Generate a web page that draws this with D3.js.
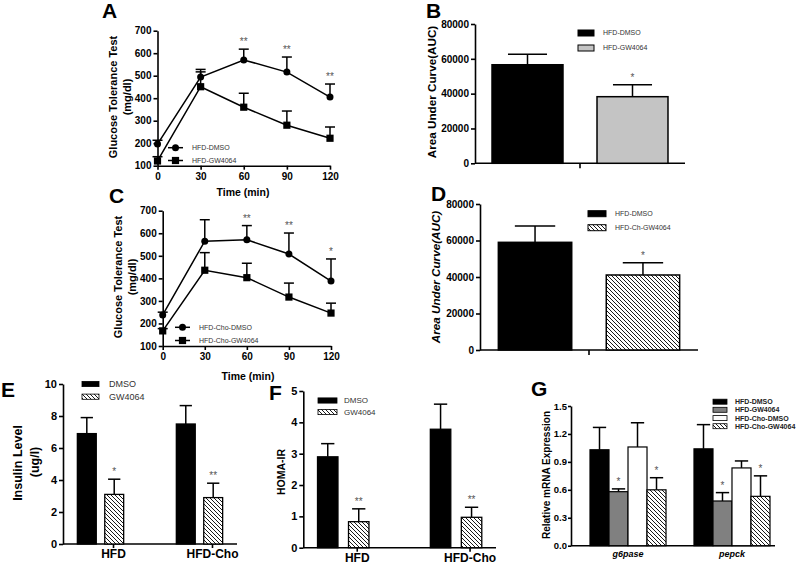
<!DOCTYPE html>
<html><head><meta charset="utf-8">
<script src="https://cdn.jsdelivr.net/npm/d3@7"></script>
<style>body{margin:0;background:#fff} svg{display:block}</style>
</head><body><svg id="c" width="800" height="564"></svg>
<script>
// ---------------- DATA ----------------
const timePoints = [0, 30, 60, 90, 120];
const gttTicks = [100, 200, 300, 400, 500, 600, 700];

const aLegend = ["HFD-DMSO", "HFD-GW4064"];
const aDMSO = [196, 494, 570, 516, 405];
const aDMSOsem = [17, 34, 48, 67, 58];
const aGW = [121, 451, 360, 280, 222];
const aGWsem = [19, 66, 62, 63, 50];
const aStars = ["", "", "**", "**", "**"];

const cLegend = ["HFD-Cho-DMSO", "HFD-Cho-GW4064"];
const cDMSO = [238, 565, 571, 508, 388];
const cDMSOsem = [12, 95, 63, 93, 98];
const cGW = [167, 436, 403, 317, 246];
const cGWsem = [10, 78, 64, 62, 44];
const cStars = ["", "", "**", "**", "*"];

const aucTicks = [0, 20000, 40000, 60000, 80000];
const bGroups = ["HFD-DMSO", "HFD-GW4064"];
const bAUC = [56600, 38250];
const bSEM = [6000, 6850];
const bStars = ["", "*"];

const dGroups = ["HFD-DMSO", "HFD-Ch-GW4064"];
const dAUC = [59000, 41100];
const dSEM = [8950, 6700];
const dStars = ["", "*"];

const diets = ["HFD", "HFD-Cho"];
const treatments = ["DMSO", "GW4064"];
const insulinDMSO = [6.9, 7.5];
const insulinDMSOsem = [1.0, 1.15];
const insulinGW = [3.1, 2.9];
const insulinGWsem = [0.95, 0.9];
const insulinStars = ["*", "**"];
const insulinTicks = [0, 2, 4, 6, 8, 10];

const homaDMSO = [2.9, 3.78];
const homaDMSOsem = [0.42, 0.8];
const homaGW = [0.83, 0.97];
const homaGWsem = [0.41, 0.32];
const homaStars = ["**", "**"];
const homaTicks = [0, 1, 2, 3, 4, 5];

const genes = ["g6pase", "pepck"];
const mrnaGroups = ["HFD-DMSO", "HFD-GW4064", "HFD-Cho-DMSO", "HFD-Cho-GW4064"];
const mrnaValues = [[1.03, 1.04], [0.58, 0.48], [1.06, 0.835], [0.60, 0.53]];
const mrnaSEM = [[0.24, 0.26], [0.03, 0.09], [0.26, 0.075], [0.13, 0.22]];
const mrnaStars = [["", ""], ["*", "*"], ["", ""], ["*", "*"]];
const mrnaTicks = [0, 0.3, 0.6, 0.9, 1.2, 1.5];

// ---------------- HELPERS ----------------
const FONT = "Arial, 'Liberation Sans', Helvetica, sans-serif";
const svg = d3.select("#c");
svg.append("rect").attr("width", 800).attr("height", 564).attr("fill", "#fff");
const defs = svg.append("defs");
const pat = defs.append("pattern").attr("id", "hatch").attr("patternUnits", "userSpaceOnUse")
  .attr("width", 4).attr("height", 4);
pat.append("rect").attr("width", 4).attr("height", 4).attr("fill", "#fff");
pat.append("path").attr("d", "M-1,-1 L5,5 M-1,3 L1,5 M3,-1 L5,1")
  .attr("stroke", "#000").attr("stroke-width", 0.9);

function txt(x, y, s, o = {}) {
  const t = svg.append("text").attr("x", x).attr("y", y).text(s)
    .attr("font-family", FONT).attr("font-size", o.size || 10)
    .attr("font-weight", o.weight || "normal").attr("fill", o.fill || "#000")
    .attr("text-anchor", o.anchor || "start");
  if (o.italic) t.attr("font-style", "italic");
  if (o.dy) t.attr("dy", o.dy);
  if (o.rotate) t.attr("transform", `rotate(-90,${x},${y})`);
  return t;
}
function line(x1, y1, x2, y2, w = 1.6) {
  svg.append("line").attr("x1", x1).attr("y1", y1).attr("x2", x2).attr("y2", y2)
    .attr("stroke", "#000").attr("stroke-width", w);
}
function yAxis(scale, x, ticks, fmt, fs, tsize = 4, tpad = 2) {
  const g = svg.append("g").attr("transform", `translate(${x},0)`)
    .call(d3.axisLeft(scale).tickValues(ticks).tickFormat(fmt).tickSize(tsize).tickSizeOuter(0).tickPadding(tpad));
  g.attr("font-family", FONT).attr("font-size", fs).attr("font-weight", "bold");
  g.selectAll("path,line").attr("stroke", "#000").attr("stroke-width", 1.6);
  g.selectAll("text").attr("fill", "#000");
  return g;
}
function errBar(cx, yBase, yTop, capW) {
  line(cx, yBase, cx, yTop, 1.5);
  line(cx - capW / 2, yTop, cx + capW / 2, yTop, 1.5);
}
function star(cx, yTop, s, size = 10) {
  if (s) txt(cx, yTop - 4, s, { size: size, anchor: "middle", fill: "#555" });
}

// ---------------- LINE PANELS (A, C) ----------------
function marker(cx, cy, shape) {
  if (shape === "circle") svg.append("circle").attr("cx", cx).attr("cy", cy).attr("r", 3.5).attr("fill", "#000");
  else svg.append("rect").attr("x", cx - 3.6).attr("y", cy - 3.6).attr("width", 7.2).attr("height", 7.2).attr("fill", "#000");
}
function linePanel(cfg) {
  const x = d3.scaleLinear().domain([0, 120]).range(cfg.xr);
  const y = d3.scaleLinear().domain([100, 700]).range(cfg.yr);
  yAxis(y, cfg.xr[0], gttTicks, d3.format("d"), 10);
  const gx = svg.append("g").attr("transform", `translate(0,${cfg.yr[0]})`)
    .call(d3.axisBottom(x).tickValues(timePoints).tickSize(4).tickSizeOuter(0).tickPadding(3));
  gx.attr("font-family", FONT).attr("font-size", 10).attr("font-weight", "bold");
  gx.selectAll("path,line").attr("stroke", "#000").attr("stroke-width", 1.6);
  gx.selectAll("text").attr("fill", "#000");

  const series = [
    { v: cfg.dmso, e: cfg.dmsoSem, shape: "circle" },
    { v: cfg.gw, e: cfg.gwSem, shape: "square" }
  ];
  const ln = d3.line().x((d, i) => x(timePoints[i])).y(d => y(d));
  series.forEach(s => {
    s.v.forEach((v, i) => errBar(x(timePoints[i]), y(v), y(v + s.e[i]), 10));
    svg.append("path").attr("d", ln(s.v)).attr("fill", "none").attr("stroke", "#000").attr("stroke-width", 1.5);
  });
  series.forEach(s => {
    s.v.forEach((v, i) => marker(x(timePoints[i]), y(v), s.shape));
  });
  cfg.stars.forEach((s, i) => star(x(timePoints[i]), y(cfg.dmso[i] + cfg.dmsoSem[i]), s));
  cfg.legend.forEach((name, i) => {
    const ly = cfg.legY[i];
    line(cfg.legX, ly, cfg.legX + 15, ly, 1.5);
    marker(cfg.legX + 7.5, ly, i === 0 ? "circle" : "square");
    txt(cfg.legX + 24, ly, name, { size: 7, dy: "0.35em", fill: "#333" });
  });
  txt(cfg.timeX, cfg.timeY, "Time (min)", { size: 10.5, weight: "bold", anchor: "middle" });
  txt(cfg.labX, cfg.labY, "Glucose Tolerance Test", { size: 11, weight: "bold", anchor: "middle", rotate: true, dy: "0.35em" });
  txt(cfg.labX + 14, cfg.labY, "(mg/dl)", { size: 11, weight: "bold", anchor: "middle", rotate: true, dy: "0.35em" });
}

linePanel({ xr: [157.5, 330], yr: [165.7, 30.7], dmso: aDMSO, dmsoSem: aDMSOsem, gw: aGW, gwSem: aGWsem,
  stars: aStars, legend: aLegend, legX: 168, legY: [147.7, 160.5], timeX: 243, timeY: 196, labX: 113, labY: 97 });
linePanel({ xr: [162.7, 331], yr: [346, 210.7], dmso: cDMSO, dmsoSem: cDMSOsem, gw: cGW, gwSem: cGWsem,
  stars: cStars, legend: cLegend, legX: 175, legY: [327.3, 340.5], timeX: 248, timeY: 380, labX: 118, labY: 277 });

// ---------------- AUC PANELS (B, D) ----------------
function aucPanel(cfg) {
  const y = d3.scaleLinear().domain([0, 80000]).range(cfg.yr);
  const x = d3.scaleBand().domain(cfg.groups).range(cfg.xr).paddingInner(cfg.pi).paddingOuter(cfg.po);
  yAxis(y, cfg.xr[0], aucTicks, d3.format("d"), 10);
  line(cfg.xr[0], cfg.yr[0], cfg.xr[1], cfg.yr[0], 1.6);
  const mid = (x(cfg.groups[0]) + x.bandwidth() + x(cfg.groups[1])) / 2;
  line(mid, cfg.yr[0], mid, cfg.yr[0] + 5, 1.6);
  cfg.groups.forEach((g, i) => {
    const cx = x(g) + x.bandwidth() / 2;
    errBar(cx, y(cfg.vals[i]), y(cfg.vals[i] + cfg.sem[i]), x.bandwidth() * 0.55);
    svg.append("rect").attr("x", x(g)).attr("y", y(cfg.vals[i])).attr("width", x.bandwidth())
      .attr("height", y(0) - y(cfg.vals[i])).attr("fill", cfg.fills[i]).attr("stroke", "#000").attr("stroke-width", 1.5);
    star(cx, y(cfg.vals[i] + cfg.sem[i]), cfg.stars[i], 10);
  });
  cfg.groups.forEach((g, i) => {
    svg.append("rect").attr("x", cfg.legX).attr("y", cfg.legY[i] - 3).attr("width", cfg.legW).attr("height", 6)
      .attr("fill", cfg.fills[i]).attr("stroke", "#000").attr("stroke-width", 1);
    txt(cfg.legX + cfg.legW + 9, cfg.legY[i], g, { size: 7, dy: "0.35em", fill: "#333" });
  });
  txt(cfg.labX, cfg.labY, "Area Under Curve(AUC)", { size: 11.7, weight: "bold", anchor: "middle", rotate: true, dy: "0.35em", italic: cfg.italic });
}
aucPanel({ groups: bGroups, vals: bAUC, sem: bSEM, stars: bStars, yr: [163.3, 24], xr: [475, 685], pi: 0.324, po: 0.162,
  fills: ["#000", "#c4c4c4"], legX: 578, legW: 16, legY: [33, 48], labX: 432, labY: 92 });
aucPanel({ groups: dGroups, vals: dAUC, sem: dSEM, stars: dStars, yr: [350, 204], xr: [480, 698], pi: 0.32, po: 0.17,
  fills: ["#000", "url(#hatch)"], legX: 588, legW: 18, legY: [213.7, 227.7], labX: 436, labY: 277, italic: true });

// ---------------- GROUPED BAR PANELS (E, F) ----------------
function pairPanel(cfg) {
  const y = d3.scaleLinear().domain([0, cfg.ticks[cfg.ticks.length - 1]]).range(cfg.yr);
  const x0 = d3.scaleBand().domain(diets).range(cfg.xr).paddingInner(cfg.pi).paddingOuter(cfg.po);
  const x1 = d3.scaleBand().domain(treatments).range([0, x0.bandwidth()]).paddingInner(cfg.pi2);
  yAxis(y, cfg.xr[0], cfg.ticks, d3.format("d"), 11);
  line(cfg.xr[0], cfg.yr[0], cfg.xr[1], cfg.yr[0], 1.6);
  const vals = [cfg.dmso, cfg.gw], sems = [cfg.dmsoSem, cfg.gwSem], fills = ["#000", "url(#hatch)"];
  diets.forEach((d, j) => {
    treatments.forEach((t, k) => {
      const bx = x0(d) + x1(t), cx = bx + x1.bandwidth() / 2, v = vals[k][j];
      errBar(cx, y(v), y(v + sems[k][j]), x1.bandwidth() * 0.65);
      svg.append("rect").attr("x", bx).attr("y", y(v)).attr("width", x1.bandwidth()).attr("height", y(0) - y(v))
        .attr("fill", fills[k]).attr("stroke", "#000").attr("stroke-width", 1.3);
      if (k === 1) star(cx, y(v + sems[k][j]), cfg.stars[j], 10);
    });
    const lx = x0(d) + x0.bandwidth() / 2 + cfg.labShift;
    line(lx, cfg.yr[0], lx, cfg.yr[0] + 4, 1.6);
    txt(lx, cfg.yr[0] + 14, d, { size: 12, weight: "bold", anchor: "middle" });
  });
  treatments.forEach((t, k) => {
    svg.append("rect").attr("x", cfg.legX).attr("y", cfg.legY[k] - 2.6).attr("width", cfg.legW).attr("height", 5.2)
      .attr("fill", fills[k]).attr("stroke", "#000").attr("stroke-width", 0.8);
    txt(cfg.legX + cfg.legW + cfg.legGap, cfg.legY[k], t, { size: cfg.legSize, dy: "0.35em", fill: "#333" });
  });
}
pairPanel({ dmso: insulinDMSO, dmsoSem: insulinDMSOsem, gw: insulinGW, gwSem: insulinGWsem, stars: insulinStars,
  ticks: insulinTicks, yr: [544, 384], xr: [63, 237], pi: 0.532, po: 0.145, pi2: 0.31, labShift: 13,
  legX: 82, legW: 17, legGap: 10, legY: [384, 396.7], legSize: 9 });
txt(18, 463, "Insulin Level", { size: 12.5, weight: "bold", anchor: "middle", rotate: true, dy: "0.35em" });
txt(35, 462, "(ug/l)", { size: 12.5, weight: "bold", anchor: "middle", rotate: true, dy: "0.35em" });

pairPanel({ dmso: homaDMSO, dmsoSem: homaDMSOsem, gw: homaGW, gwSem: homaGWsem, stars: homaStars,
  ticks: homaTicks, yr: [547.7, 391], xr: [303.3, 496], pi: 0.544, po: 0.126, pi2: 0.34, labShift: 14,
  legX: 318, legW: 19, legGap: 7, legY: [400.5, 412], legSize: 8 });
txt(281, 472, "HOMA-IR", { size: 10.5, weight: "bold", anchor: "middle", rotate: true, dy: "0.35em" });

// ---------------- PANEL G ----------------
(function () {
  const y = d3.scaleLinear().domain([0, 1.5]).range([545.7, 406]);
  const x0 = d3.scaleBand().domain(genes).range([590, 770]).paddingInner(0.269).paddingOuter(0);
  const x1 = d3.scaleBand().domain(mrnaGroups).range([0, x0.bandwidth()]).padding(0);
  const fills = ["#000", "#808080", "#fff", "url(#hatch)"];
  yAxis(y, 571, mrnaTicks, d3.format(".1f"), 9.5, 3, 1);
  line(571, 545.7, 775, 545.7, 1.6);
  genes.forEach((gname, j) => {
    mrnaGroups.forEach((m, k) => {
      const bx = x0(gname) + x1(m), cx = bx + x1.bandwidth() / 2, v = mrnaValues[k][j];
      errBar(cx, y(v), y(v + mrnaSEM[k][j]), x1.bandwidth() * 0.7);
      svg.append("rect").attr("x", bx).attr("y", y(v)).attr("width", x1.bandwidth()).attr("height", y(0) - y(v))
        .attr("fill", fills[k]).attr("stroke", "#000").attr("stroke-width", 1.2);
      star(cx, y(v + mrnaSEM[k][j]), mrnaStars[k][j], 10);
    });
    txt(x0(gname) + x0.bandwidth() / 2, 557, gname, { size: 9, weight: "bold", italic: true, anchor: "middle" });
  });
  const legY = [401.7, 409.8, 418.1, 426.2];
  mrnaGroups.forEach((m, k) => {
    svg.append("rect").attr("x", 713).attr("y", legY[k] - 2.5).attr("width", 14).attr("height", 5)
      .attr("fill", fills[k]).attr("stroke", "#000").attr("stroke-width", 0.8);
    txt(735, legY[k], m, { size: 7, weight: "bold", dy: "0.35em", fill: "#222" });
  });
  txt(546, 475, "Relative mRNA  Expression", { size: 10, weight: "bold", anchor: "middle", rotate: true, dy: "0.35em" });
})();

// ---------------- PANEL LETTERS ----------------
const letters = [["A", 102, 18], ["B", 426, 18], ["C", 109, 203], ["D", 431, 201], ["E", 1, 397], ["F", 269, 400], ["G", 531, 396]];
letters.forEach(([l, x, y]) => txt(x, y, l, { size: 21, weight: "bold" }));
</script>
</body></html>
